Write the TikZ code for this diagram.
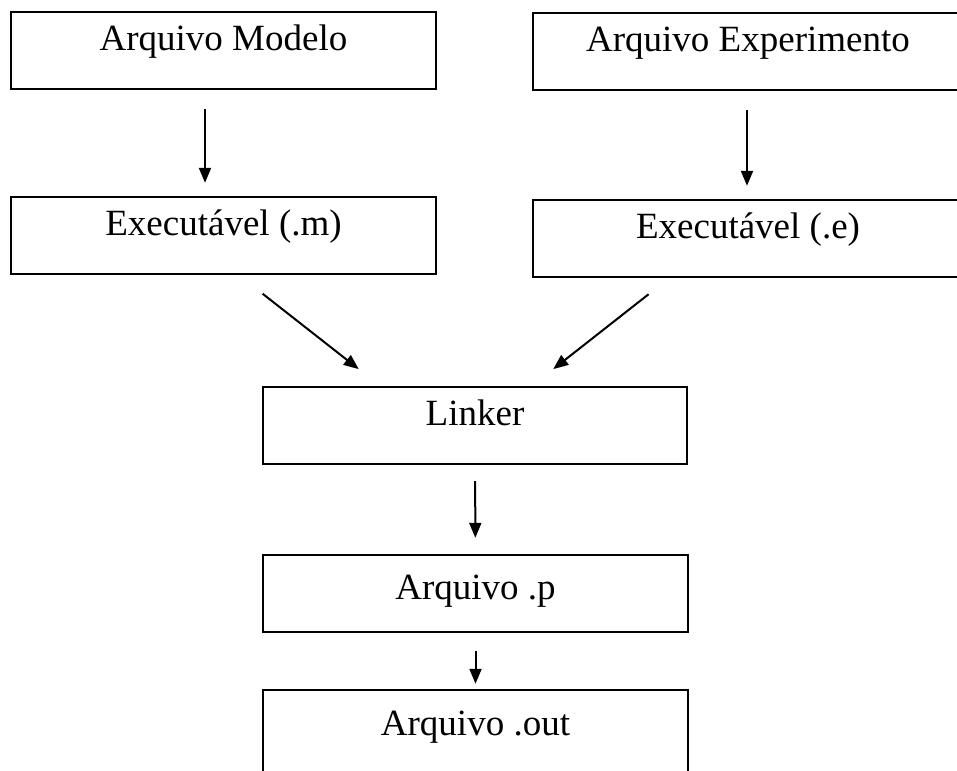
\documentclass[tikz,border=0pt]{standalone}
\usepackage{fontspec}
\setmainfont{Liberation Serif}
\usetikzlibrary{arrows.meta}

\begin{document}
\begin{tikzpicture}[x=1pt, y=1pt,
  caixa/.style={draw, line width=2.4pt, minimum height=77pt, inner sep=0pt,
    text height=12pt, text depth=12pt, font=\fontsize{37}{44}\selectfont},
  seta/.style={-{Triangle[length=15pt, width=12pt]}, line width=2pt}]
\useasboundingbox (0,0) rectangle (957,-770);
\clip (0,0) rectangle (957,-770);

\node[caixa, minimum width=425pt] (m) at (223.5, -50.5) {Arquivo Modelo};
\node[caixa, minimum width=430pt] (e) at (748, -51.5) {Arquivo Experimento};
\node[caixa, minimum width=425pt] (xm) at (223.5, -235.5) {Executável (.m)};
\node[caixa, minimum width=430pt] (xe) at (748, -238.5) {Executável (.e)};
\node[caixa, minimum width=424pt] (l) at (475, -425.5) {Linker};
\node[caixa, minimum width=425pt, text height=18pt, text depth=6pt] (p) at (475.5, -593.5) {Arquivo .p};
\node[caixa, minimum width=425pt, minimum height=90pt] (o) at (475.5, -735) {Arquivo .out};

\draw[seta, shorten <=19pt, shorten >=13pt] ([xshift=-18.5pt]m.south) -- ([xshift=-18.5pt]xm.north);
\draw[seta, shorten <=19pt, shorten >=13pt] ([xshift=-1pt]e.south) -- ([xshift=-1pt]xe.north);
\draw[seta, shorten <=30pt, shorten >=27pt] ([xshift=15.5pt]xm.south) -- ([xshift=-95pt]l.north);
\draw[seta, shorten <=26pt, shorten >=27pt] ([xshift=-79pt]xe.south) -- ([xshift=57pt]l.north);
\draw[seta, shorten <=16pt, shorten >=16pt] (l) -- (p);
\draw[seta, shorten <=18pt, shorten >=5pt] (p) -- (o);
\end{tikzpicture}
\end{document}
